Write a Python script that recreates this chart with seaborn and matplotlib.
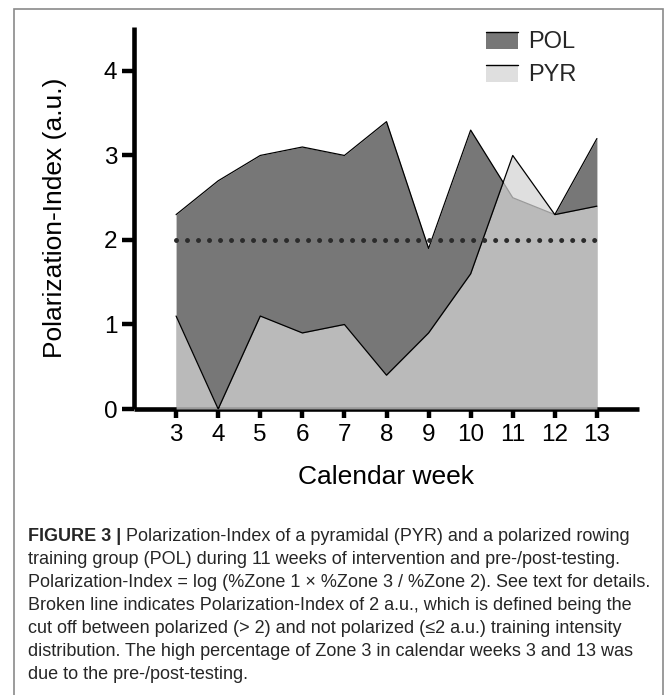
import matplotlib
matplotlib.use("Agg")
import matplotlib.pyplot as plt
import seaborn as sns
import numpy as np
from matplotlib.patches import Rectangle, Patch
from matplotlib.lines import Line2D
from matplotlib.legend_handler import HandlerBase

# ---------------- data ----------------
weeks = [3, 4, 5, 6, 7, 8, 9, 10, 11, 12, 13]
pol = [2.3, 2.7, 3.0, 3.1, 3.0, 3.4, 1.9, 3.3, 2.5, 2.3, 3.2]
pyr = [1.1, 0.0, 1.1, 0.9, 1.0, 0.4, 0.9, 1.6, 3.0, 2.3, 2.4]
cutoff = 2.0
series_labels = ["POL", "PYR"]
y_ticks = [0, 1, 2, 3, 4]
x_label = "Calendar week"
y_label = "Polarization-Index (a.u.)"
caption_bold = "FIGURE 3 |"
caption_lines = [
    "Polarization-Index of a pyramidal (PYR) and a polarized rowing",
    "training group (POL) during 11 weeks of intervention and pre-/post-testing.",
    "Polarization-Index = log (%Zone 1 \u00d7 %Zone 3 / %Zone 2). See text for details.",
    "Broken line indicates Polarization-Index of 2 a.u., which is defined being the",
    "cut off between polarized (> 2) and not polarized (\u22642 a.u.) training intensity",
    "distribution. The high percentage of Zone 3 in calendar weeks 3 and 13 was",
    "due to the pre-/post-testing.",
]

# ---------------- style ----------------
sns.set_theme(style="ticks")
FAM = ["Liberation Sans", "DejaVu Sans"]
plt.rcParams["font.family"] = FAM

POL_COLOR = "#777777"
PYR_COLOR = (212 / 255, 212 / 255, 212 / 255)
PYR_ALPHA = 0.73

W, H = 670, 695
fig = plt.figure(figsize=(W / 100, H / 100), dpi=100)
fig.patch.set_facecolor("white")

ax_l, ax_r, ax_t, ax_b = 134, 639, 27, 409
ax = fig.add_axes([ax_l / W, 1 - ax_b / H, (ax_r - ax_l) / W, (ax_b - ax_t) / H])
ax.set_facecolor("white")

# POL
ax.fill_between(weeks, 0, pol, color=POL_COLOR, lw=0, zorder=1)
sns.lineplot(x=weeks, y=pol, color="black", lw=0.9, ax=ax, zorder=2)
# PYR
ax.fill_between(weeks, 0, pyr, color=PYR_COLOR, alpha=PYR_ALPHA, lw=0, zorder=3)
sns.lineplot(x=weeks, y=pyr, color="black", lw=0.9, ax=ax, zorder=4)
# cut-off dotted line
ax.plot([weeks[0], weeks[-1]], [cutoff, cutoff], color="#2b2b2b", lw=3.6,
        linestyle=(0, (0.001, 2.2)), dash_capstyle="round", zorder=5)

ax.set_xlim(2, 14)
ax.set_ylim(0, 4.52)
ax.set_xticks(weeks)
ax.set_xticklabels([str(w) for w in weeks])
ax.set_yticks(y_ticks)
ax.set_yticklabels([str(t) for t in y_ticks])

for s in ["top", "right"]:
    ax.spines[s].set_visible(False)
for s in ["left", "bottom"]:
    ax.spines[s].set_linewidth(3.3)
    ax.spines[s].set_color("black")
    ax.spines[s].set_capstyle("butt")

ax.tick_params(axis="x", direction="out", length=6.5, width=3.2, color="black",
               labelsize=17.5, pad=4.5, labelcolor="black")
ax.tick_params(axis="y", direction="out", length=8.5, width=3.2, color="black",
               labelsize=17.5, pad=3.5, labelcolor="black")
for lab in ax.get_xticklabels() + ax.get_yticklabels():
    lab.set_family(FAM)

ax.set_xlabel(x_label, fontsize=19, color="black")
ax.set_ylabel(y_label, fontsize=19, color="black")
ax.xaxis.set_label_coords(0.5, (ax_b - 465) / (ax_b - ax_t))
ax.yaxis.set_label_coords((67 - ax_l) / (ax_r - ax_l), 0.5)


# legend (fill with line along top edge)
class FillLineHandler(HandlerBase):
    def create_artists(self, legend, orig_handle, xdescent, ydescent,
                       width, height, fontsize, trans):
        fc, alpha = orig_handle
        h = height * 1.0
        y0 = -ydescent - 0.05 * height
        rect = Rectangle((-xdescent, y0), width, h, facecolor=fc, alpha=alpha,
                         edgecolor="none", transform=trans)
        line = Line2D([-xdescent, -xdescent + width], [y0 + h, y0 + h],
                      color="black", lw=1.0, transform=trans)
        return [rect, line]


handles = [(POL_COLOR, 1.0), (PYR_COLOR, PYR_ALPHA)]
leg = ax.legend(handles, series_labels, handler_map={tuple: FillLineHandler()},
                loc="upper left", bbox_to_anchor=(486 / W, 1 - 31 / H),
                bbox_transform=fig.transFigure, frameon=False, fontsize=17,
                handlelength=1.35, handleheight=0.7, handletextpad=0.45,
                labelspacing=0.47, borderpad=0, borderaxespad=0)
for t in leg.get_texts():
    t.set_family(FAM)

# figure border
fig.patches.append(Rectangle((14 / W, -0.05), (663 - 14) / W, 1.05 - 9.5 / H,
                             transform=fig.transFigure, fill=False,
                             edgecolor="#8a8a8a", lw=1.2))

# caption
renderer = fig.canvas.get_renderer()
probe = fig.text(0, 0, caption_lines[2], fontsize=10, family=FAM)
pw = probe.get_window_extent(renderer).width
probe.remove()
cap_fs = 10 * (652 - 28) / pw
cap_color = "#262626"
x0 = 28
baselines = [541 + 23 * i for i in range(len(caption_lines))]
tb = fig.text(x0 / W, 1 - baselines[0] / H, caption_bold, fontsize=cap_fs,
              weight="bold", family=FAM, color=cap_color, va="baseline")
wb = tb.get_window_extent(renderer).width
space = 0.278 * cap_fs * 100 / 72
fig.text((x0 + wb + space) / W, 1 - baselines[0] / H, caption_lines[0],
         fontsize=cap_fs, family=FAM, color=cap_color, va="baseline")
for line, yb in zip(caption_lines[1:], baselines[1:]):
    fig.text(x0 / W, 1 - yb / H, line, fontsize=cap_fs, family=FAM,
             color=cap_color, va="baseline")

fig.savefig("out.png", dpi=100, facecolor="white")
